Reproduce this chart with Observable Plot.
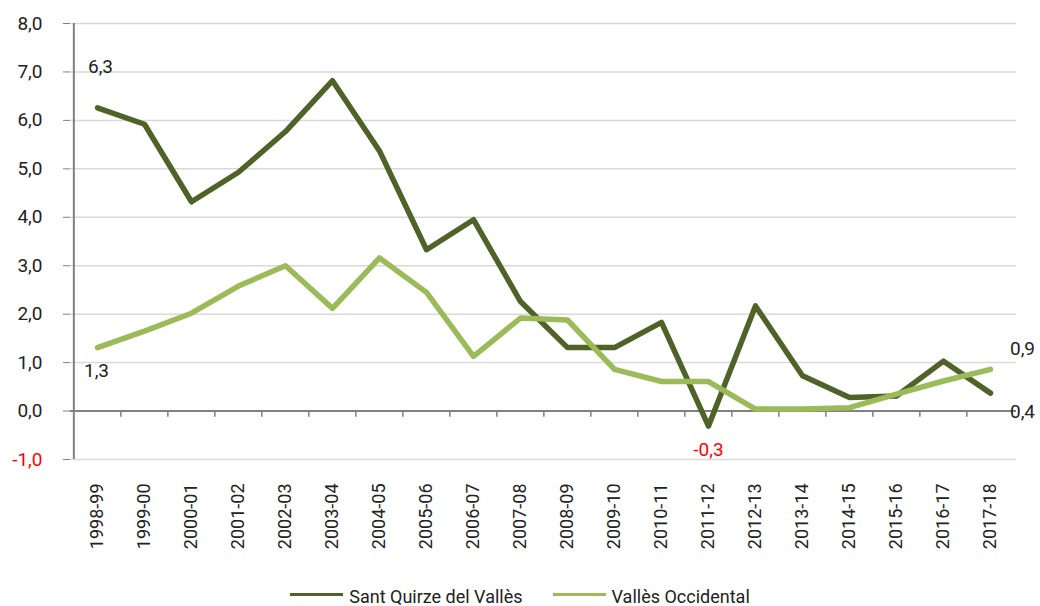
<!DOCTYPE html>
<html>
<head>
<meta charset="utf-8">
<script src="https://cdn.jsdelivr.net/npm/d3@7"></script>
<script src="https://cdn.jsdelivr.net/npm/@observablehq/plot@0.6"></script>
<style>
  html, body { margin: 0; padding: 0; background: #fff; }
  body { width: 1040px; height: 606px; overflow: hidden; font-family: Roboto, "Liberation Sans", sans-serif; }
  #legend { display: flex; justify-content: center; align-items: center; height: 36px; font-size: 18px; color: #222; margin-top: 8px; }
  .item { display: flex; align-items: center; margin: 0 15px; }
  .sw { width: 53px; height: 3px; margin-right: 6px; margin-top: -3px; }
</style>
</head>
<body>
<div id="chart"></div>
<div id="legend"></div>
<script>
const periods = ["1998-99","1999-00","2000-01","2001-02","2002-03","2003-04","2004-05","2005-06","2006-07","2007-08","2008-09","2009-10","2010-11","2011-12","2012-13","2013-14","2014-15","2015-16","2016-17","2017-18"];
const seriesNames = ["Sant Quirze del Vallès", "Vallès Occidental"];
const santQuirze = [6.26, 5.92, 4.32, 4.93, 5.77, 6.82, 5.37, 3.33, 3.95, 2.26, 1.31, 1.31, 1.83, -0.31, 2.17, 0.73, 0.28, 0.31, 1.03, 0.37];
const vallesOcc = [1.31, 1.65, 2.02, 2.58, 3.0, 2.12, 3.16, 2.45, 1.13, 1.92, 1.88, 0.86, 0.61, 0.61, 0.04, 0.04, 0.07, 0.35, 0.62, 0.86];
const yTicks = [0, 1, 2, 3, 4, 5, 6, 7, 8];
const yNegTicks = [-1];
const colors = ["#4f6228", "#9bbb59"];

const fmt = v => d3.format(".1f")(v).replace(".", ",").replace("−", "-");

const data = [];
periods.forEach((p, i) => {
  data.push({period: p, series: seriesNames[0], value: santQuirze[i]});
  data.push({period: p, series: seriesNames[1], value: vallesOcc[i]});
});

const W = 1040, ML = 70, MR = 24;
const step = (W - ML - MR) / periods.length;
const font = "Roboto, 'Liberation Sans', sans-serif";

const last = periods.length - 1;
const minIdx = santQuirze.indexOf(d3.min(santQuirze));
const labels = [
  {period: periods[0], value: santQuirze[0], dx: 3, dy: -41, color: "#222"},
  {period: periods[0], value: vallesOcc[0], dx: -1, dy: 23, color: "#222"},
  {period: periods[minIdx], value: santQuirze[minIdx], dx: 0, dy: 24, color: "#ff0000"},
  {period: periods[last], value: vallesOcc[last], dx: 32, dy: -20, color: "#222"},
  {period: periods[last], value: santQuirze[last], dx: 32, dy: 19, color: "#222"}
];

const chart = Plot.plot({
  width: W,
  height: 570,
  marginLeft: ML,
  marginRight: MR,
  marginTop: 23,
  marginBottom: 111,
  style: {fontFamily: font, background: "#fff", overflow: "visible"},
  x: {type: "point", domain: periods, padding: 0.5, label: null},
  y: {domain: [-1, 8], label: null},
  marks: [
    Plot.gridY([...yNegTicks, ...yTicks], {stroke: "#d9d9d9", strokeOpacity: 1, strokeWidth: 1.5}),
    Plot.axisY(yTicks, {tickSize: 7, tickPadding: 21, tickFormat: fmt, fontSize: 19, stroke: "#808080", fill: "#222", label: null}),
    Plot.axisY(yNegTicks, {tickSize: 7, tickPadding: 21, tickFormat: fmt, fontSize: 19, stroke: "#808080", fill: "#ff0000", label: null}),
    Plot.axisX({tickSize: 0, tickPadding: 24, tickRotate: -90, fontSize: 18, fill: "#222", label: null}),
    Plot.ruleX([periods[0]], {y1: -1, y2: 8, dx: -step / 2, stroke: "#808080", strokeWidth: 2}),
    Plot.ruleY([0], {stroke: "#808080", strokeWidth: 2}),
    Plot.ruleX(periods.slice(1), {y1: 0, y2: -0.13, dx: -step / 2, stroke: "#808080", strokeWidth: 1.5}),
    Plot.line(data, {x: "period", y: "value", z: "series", stroke: d => colors[seriesNames.indexOf(d.series)], strokeWidth: 5.5, strokeLinejoin: "round", strokeLinecap: "round"}),
    ...labels.map(l => Plot.text([l], {x: "period", y: "value", text: d => fmt(d.value), dx: l.dx, dy: l.dy, fill: l.color, fontSize: 19}))
  ]
});

document.getElementById("chart").appendChild(chart);

const legend = document.getElementById("legend");
seriesNames.forEach((name, i) => {
  const item = document.createElement("div");
  item.className = "item";
  const sw = document.createElement("div");
  sw.className = "sw";
  sw.style.background = colors[i];
  const t = document.createElement("span");
  t.textContent = name;
  item.appendChild(sw);
  item.appendChild(t);
  legend.appendChild(item);
});
</script>
</body>
</html>
